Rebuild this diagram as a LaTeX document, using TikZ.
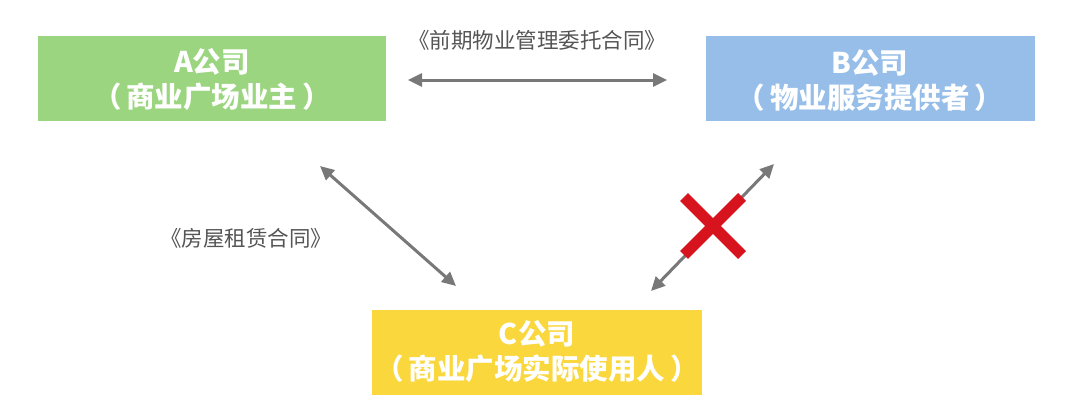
\documentclass[tikz,border=0pt]{standalone}
\usepackage{fontspec}
\setmainfont{Noto Sans CJK SC}
\usetikzlibrary{arrows.meta,calc}
\definecolor{boxA}{RGB}{155,213,128}
\definecolor{boxB}{RGB}{151,190,232}
\definecolor{boxC}{RGB}{250,215,60}
\definecolor{arr}{RGB}{120,120,120}
\definecolor{lbl}{RGB}{85,85,85}
\definecolor{xred}{RGB}{215,20,30}
\newcommand{\pgap}{\hspace{5pt}}
\begin{document}
\begin{tikzpicture}[x=1pt,y=-1pt,
  company/.style={draw=none,inner sep=0pt,text=white,font=\fontsize{28.5}{35}\selectfont\bfseries,align=center},
  conn/.style={arr,line width=3pt,{Triangle[length=14pt,width=13pt]}-{Triangle[length=14pt,width=13pt]}},
  lab/.style={text=lbl,font=\fontsize{21.5}{24}\selectfont,inner sep=0pt}]
\useasboundingbox (0,0) rectangle (1080,413);
\fill[white] (0,0) rectangle (1080,413);
\fill[boxA] (38,36) rectangle (386,121);
\fill[boxB] (706,36) rectangle (1035,121);
\fill[boxC] (372,310) rectangle (702,395);
\node[company] (A) at (212,80) {A公司\\（\pgap 商业广场业主\pgap ）};
\node[company] (B) at (870,80) {B公司\\（\pgap 物业服务提供者\pgap ）};
\node[company] (C) at (537,352) {C公司\\（\pgap 商业广场实际使用人\pgap ）};
\node[lab] (t1) at (537,40) {《前期物业管理委托合同》};
\node[lab] (t2) at (246,238) {《房屋租赁合同》};
\coordinate (h1) at (408,80);
\coordinate (h2) at (667,80);
\coordinate (l1) at (320,166);
\coordinate (l2) at (456,286);
\coordinate (r1) at (651,291);
\coordinate (r2) at (774,164);
\draw[conn] (h1) -- (h2);
\draw[conn] (l1) -- (l2);
\draw[conn] (r1) -- (r2);
\coordinate (X) at (713,226);
\draw[xred,line width=11pt] ($(X)+(-29,-29)$) -- ($(X)+(29,29)$);
\draw[xred,line width=11pt] ($(X)+(-29,29)$) -- ($(X)+(29,-29)$);
\end{tikzpicture}
\end{document}
